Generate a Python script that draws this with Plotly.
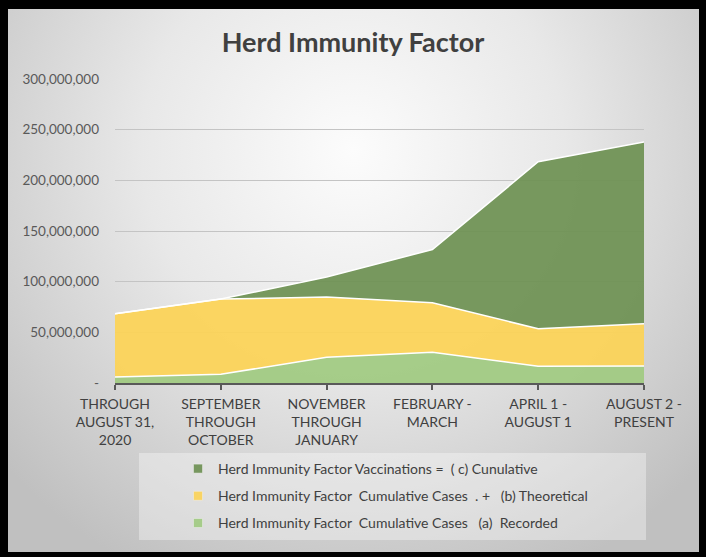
import base64
import plotly.graph_objects as go

categories = [
    "THROUGH<br>AUGUST 31,<br>2020",
    "SEPTEMBER<br>THROUGH<br>OCTOBER",
    "NOVEMBER<br>THROUGH<br>JANUARY",
    "FEBRUARY -<br>MARCH",
    "APRIL 1 -<br>AUGUST 1",
    "AUGUST 2 -<br>PRESENT",
]
recorded = [5_900_000, 8_600_000, 25_400_000, 30_400_000, 16_500_000, 16_800_000]
theoretical = [62_400_000, 74_200_000, 59_400_000, 48_800_000, 37_000_000, 41_600_000]
vaccinations = [0, 0, 19_800_000, 52_500_000, 164_800_000, 179_500_000]

name_a = "Herd Immunity Factor  Cumulative Cases   (a)  Recorded"
name_b = "Herd Immunity Factor  Cumulative Cases  . +   (b) Theoretical"
name_c = "Herd Immunity Factor Vaccinations =  ( c) Cunulative"

y_ticks = [0, 50_000_000, 100_000_000, 150_000_000, 200_000_000, 250_000_000, 300_000_000]
y_ticktext = ["-", "50,000,000", "100,000,000", "150,000,000", "200,000,000", "250,000,000", "300,000,000"]

W, H = 706, 557
L, R, T, B = 115, 62, 79, 174
PW, PH = W - L - R, H - T - B

svg = f'''<svg xmlns="http://www.w3.org/2000/svg" width="{W}" height="{H}" viewBox="0 0 {W} {H}" preserveAspectRatio="none">
<defs><radialGradient id="g" gradientUnits="userSpaceOnUse" cx="353" cy="150" r="470">
<stop offset="0" stop-color="#fcfcfc"/><stop offset="0.45" stop-color="#e8e8e8"/><stop offset="1" stop-color="#c0c0c0"/></radialGradient></defs>
<rect x="0" y="0" width="{W}" height="{H}" fill="#000"/>
<rect x="8" y="9" width="{699-8}" height="{552-9}" fill="url(#g)"/>
</svg>'''
src = "data:image/svg+xml;base64," + base64.b64encode(svg.encode()).decode()

xs = list(range(len(categories)))

col_a = "rgba(160,202,129,0.93)"
col_b = "rgba(252,211,86,0.93)"
col_c = "rgba(110,145,83,0.93)"

fig = go.Figure()
for vals, col, nm in [(recorded, col_a, name_a), (theoretical, col_b, name_b), (vaccinations, col_c, name_c)]:
    fig.add_trace(go.Scatter(
        x=xs, y=vals, name=nm, mode="lines", stackgroup="one",
        line=dict(color="white", width=1.5), fillcolor=col, showlegend=False,
        hoverinfo="skip",
    ))

for col, nm, g in [("#77975f", name_c, "c"), ("#f9d464", name_b, "b"), ("#a6cc8a", name_a, "a")]:
    fig.add_trace(go.Scatter(
        x=[None], y=[None], mode="markers", name=nm, legendgroup=g,
        marker=dict(symbol="square", size=9, color=col, line=dict(color="#eeeeee", width=0.5)),
    ))

fig.update_layout(
    width=W, height=H,
    margin=dict(l=L, r=R, t=T, b=B),
    paper_bgcolor="#000000",
    plot_bgcolor="rgba(0,0,0,0)",
    font=dict(family="Lato, Calibri, sans-serif", color="#404040", size=13),
    title=dict(text="<b>Herd Immunity Factor</b>", x=0.5, xanchor="center",
               y=1 - 43 / H, yanchor="middle", yref="container",
               font=dict(size=27, color="#404040", family="Lato, Calibri, sans-serif")),
    xaxis=dict(
        range=[0, len(categories) - 1], tickvals=xs, ticktext=categories,
        showgrid=False, zeroline=False, showline=True, linecolor="#595959", linewidth=1.5,
        ticks="outside", ticklen=5, tickcolor="#595959", tickwidth=1.5,
        tickfont=dict(size=14, color="#404040"), ticklabelstandoff=2,
    ),
    yaxis=dict(
        range=[0, 300_000_000], tickvals=y_ticks, ticktext=y_ticktext,
        showgrid=True, gridcolor="#c4c4c4", gridwidth=1, zeroline=False, showline=False,
        tickfont=dict(size=13.5, color="#595959"), ticklabelstandoff=15,
    ),
    legend=dict(
        x=(178 - L) / PW, xanchor="left", y=(T + PH - 453) / PH, yanchor="top",
        bgcolor="rgba(0,0,0,0)", traceorder="grouped", tracegroupgap=6,
        font=dict(size=14, color="#404040"),
    ),
    images=[dict(source=src, xref="paper", yref="paper", x=-L / PW, y=1 + T / PH,
                 sizex=W / PW, sizey=H / PH, xanchor="left", yanchor="top",
                 sizing="stretch", layer="below")],
    shapes=[dict(type="rect", xref="paper", yref="paper", layer="below",
                 x0=(139 - L) / PW, x1=(646 - L) / PW,
                 y0=(T + PH - 540) / PH, y1=(T + PH - 453) / PH,
                 fillcolor="rgba(255,255,255,0.35)", line=dict(width=0))],
)

fig.write_html("out.html")
